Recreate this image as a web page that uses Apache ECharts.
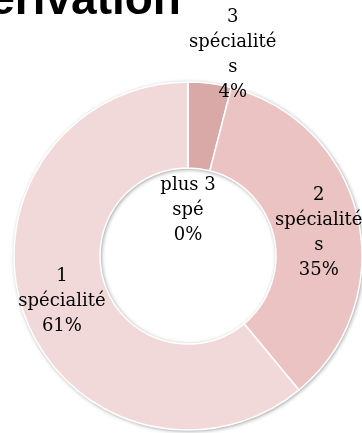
<!DOCTYPE html>
<html>
<head>
<meta charset="utf-8">
<script src="https://cdn.jsdelivr.net/npm/echarts@6/dist/echarts.min.js"></script>
<style>
  html, body { margin: 0; padding: 0; background: #fff; }
  #chart { width: 362px; height: 433px; }
</style>
</head>
<body>
<div id="chart"></div>
<script>
// Number of "spécialités" followed, share of students (%)
const categories = ['3 spécialités', '2 spécialités', '1 spécialité', 'plus 3 spé'];
// the same names, wrapped as they are printed on the ring
const categoryLabels = ['3\nspécialité\ns', '2\nspécialité\ns', '1\nspécialité', 'plus 3\nspé'];
const shares = [4, 35, 61, 0];
const sliceColors = ['#d9a9a8', '#ebc3c3', '#f2d9d9', '#f2d9d9'];
const chartTitle = 'Dérivation';

// Label nudges (dx, dy) relative to each slice's default label anchor
const labelPlacement = [
  { position: 'inside', dx: 28, dy: -68 },
  { position: 'inside', dx: 0, dy: 6 },
  { position: 'inside', dx: 0, dy: 0 },
  { position: 'inside', dx: 0, dy: 88 }
];

const chart = echarts.init(document.getElementById('chart'), null, { renderer: 'canvas' });

const center = [188, 256];
const radius = [88, 174];

chart.setOption({
  animation: false,
  backgroundColor: '#ffffff',
  title: {
    text: chartTitle,
    left: -44,
    top: -22,
    padding: 0,
    textStyle: {
      fontFamily: 'Liberation Sans, Arial, sans-serif',
      fontWeight: 'bold',
      fontSize: 46,
      color: '#000'
    }
  },
  series: [
    {
      // shaded rim behind the ring
      type: 'pie',
      silent: true,
      center: center,
      radius: radius,
      z: 1,
      label: { show: false },
      labelLine: { show: false },
      itemStyle: {
        color: '#ffffff',
        shadowBlur: 4,
        shadowColor: 'rgba(0,0,0,0.45)',
        shadowOffsetX: 1,
        shadowOffsetY: 1
      },
      data: [{ value: 1, name: '' }]
    },
    {
      type: 'pie',
      center: center,
      radius: radius,
      startAngle: 90,
      clockwise: true,
      z: 2,
      avoidLabelOverlap: false,
      percentPrecision: 0,
      itemStyle: {
        borderColor: '#ffffff',
        borderWidth: 1.5
      },
      label: {
        show: true,
        formatter: function (p) {
          return categoryLabels[p.dataIndex] + '\n' + p.percent + '%';
        },
        fontFamily: 'DejaVu Serif, serif',
        fontSize: 18,
        lineHeight: 25,
        color: '#000',
        align: 'center'
      },
      labelLine: { show: false },
      labelLayout: function (params) {
        const p = labelPlacement[params.dataIndex];
        return { dx: p.dx, dy: p.dy };
      },
      data: categories.map(function (name, i) {
        return {
          name: name,
          value: shares[i],
          itemStyle: { color: sliceColors[i] },
          label: { position: labelPlacement[i].position }
        };
      })
    }
  ]
});
</script>
</body>
</html>
